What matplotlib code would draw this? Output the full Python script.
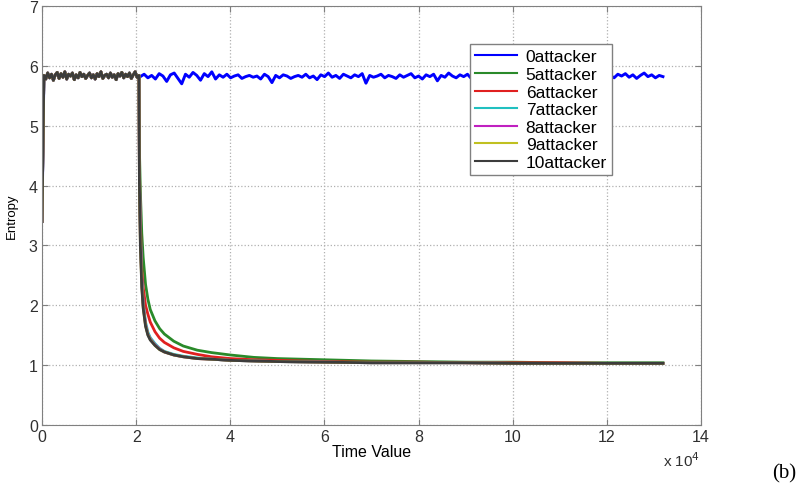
import numpy as np
import matplotlib
matplotlib.use("Agg")
import matplotlib.pyplot as plt

plt.rcParams['font.family'] = ['Liberation Sans', 'DejaVu Sans']

# entropy before the attack starts (shared by every run, 10attacker drawn on top)
pre_vals = [3.4, 5.84, 5.78, 5.88, 5.80, 5.86, 5.76, 5.85, 5.89, 5.79, 5.87,
            5.81, 5.90, 5.78, 5.86, 5.83, 5.88, 5.77, 5.85, 5.80, 5.89,
            5.82, 5.86, 5.79, 5.84, 5.88, 5.80, 5.85, 5.78, 5.87, 5.82,
            5.90, 5.79, 5.84, 5.86, 5.80, 5.88, 5.81, 5.85, 5.77, 5.87,
            5.83, 5.89, 5.80, 5.86, 5.82, 5.88, 5.79, 5.85, 5.90, 5.81, 5.84]

# 0attacker after t = 2e4
blue_vals = [5.82, 5.86, 5.80, 5.84, 5.78, 5.87, 5.83, 5.74, 5.85, 5.88, 5.79, 5.70, 5.86, 5.81,
             5.89, 5.84, 5.76, 5.87, 5.82, 5.90, 5.78, 5.85, 5.81, 5.86, 5.80, 5.83, 5.85, 5.79,
             5.82, 5.84, 5.81, 5.83, 5.78, 5.86, 5.82, 5.72, 5.84, 5.80, 5.85, 5.83, 5.79, 5.82,
             5.84, 5.81, 5.86, 5.80, 5.83, 5.77, 5.85, 5.82, 5.88, 5.81, 5.84, 5.79, 5.86, 5.83,
             5.80, 5.85, 5.82, 5.87, 5.71, 5.84, 5.81, 5.83, 5.86, 5.80, 5.84, 5.82, 5.79, 5.85,
             5.81, 5.84, 5.87, 5.80, 5.83, 5.78, 5.85, 5.82, 5.86, 5.75, 5.84, 5.81, 5.88, 5.83,
             5.80, 5.85, 5.82, 5.86, 5.79, 5.84, 5.81, 5.87, 5.83, 5.73, 5.85, 5.82, 5.86, 5.80,
             5.84, 5.81, 5.88, 5.79, 5.85, 5.82, 5.86, 5.80, 5.84, 5.87, 5.81, 5.76, 5.85, 5.83,
             5.86, 5.80, 5.84, 5.82, 5.88, 5.79, 5.85, 5.81, 5.87, 5.83, 5.78, 5.86, 5.82, 5.84,
             5.80, 5.86, 5.83, 5.87, 5.81, 5.85, 5.79, 5.84, 5.88, 5.82, 5.85, 5.80, 5.84, 5.82]

# decay after the attack starts (time in units of 1e4)
decay_x = [2.07, 2.09, 2.12, 2.15, 2.2, 2.25, 2.3, 2.4, 2.5, 2.6, 2.8, 3.0, 3.3,
           3.6, 4.0, 4.5, 5.0, 6.0, 7.0, 8.0, 9.0, 10.0, 11.0, 12.0, 13.19]
att5 = [4.6, 3.9, 3.2, 2.8, 2.35, 2.1, 1.93, 1.74, 1.61, 1.52, 1.40, 1.32, 1.25,
        1.21, 1.17, 1.13, 1.11, 1.09, 1.07, 1.06, 1.05, 1.05, 1.04, 1.04, 1.04]
att6 = [4.3, 3.4, 2.6, 2.3, 2.0, 1.85, 1.72, 1.56, 1.45, 1.38, 1.29, 1.23, 1.18,
        1.14, 1.11, 1.09, 1.08, 1.06, 1.05, 1.05, 1.04, 1.04, 1.04, 1.03, 1.03]
att7 = [4.2, 3.3, 2.45, 2.05, 1.72, 1.55, 1.46, 1.36, 1.28, 1.23, 1.18, 1.15, 1.12,
        1.10, 1.08, 1.07, 1.06, 1.05, 1.04, 1.04, 1.04, 1.03, 1.03, 1.03, 1.03]
att8 = [4.1, 3.15, 2.38, 2.0, 1.68, 1.52, 1.44, 1.34, 1.27, 1.22, 1.17, 1.14, 1.11,
        1.10, 1.08, 1.07, 1.06, 1.05, 1.04, 1.04, 1.04, 1.03, 1.03, 1.03, 1.03]
att9 = [4.05, 3.05, 2.33, 1.97, 1.66, 1.51, 1.43, 1.33, 1.26, 1.22, 1.17, 1.14, 1.11,
        1.10, 1.08, 1.07, 1.06, 1.05, 1.04, 1.04, 1.04, 1.03, 1.03, 1.03, 1.03]
att10 = [4.0, 3.0, 2.3, 1.95, 1.65, 1.50, 1.42, 1.33, 1.26, 1.22, 1.17, 1.14, 1.11,
         1.10, 1.08, 1.07, 1.06, 1.05, 1.04, 1.04, 1.04, 1.03, 1.03, 1.03, 1.03]

labels = ["0attacker", "5attacker", "6attacker", "7attacker", "8attacker", "9attacker", "10attacker"]
colors = ["#0000ff", "#2a8a2a", "#e02020", "#20c0c0", "#c020c0", "#c0c020", "#3c3c3c"]

fig = plt.figure(figsize=(8.04, 4.89), dpi=100)
ax = fig.add_axes([0.0522, 0.1288, 0.8198, 0.8569])

pre_x = np.linspace(0, 2.06, len(pre_vals))
blue_x = np.linspace(2.09, 13.19, len(blue_vals))

ax.plot(np.concatenate([pre_x, blue_x]), pre_vals + blue_vals,
        color=colors[0], lw=2.1, label=labels[0])
for vals, c, lab in zip([att5, att6, att7, att8, att9, att10], colors[1:], labels[1:]):
    ax.plot(np.concatenate([pre_x, decay_x]), pre_vals + vals, color=c, lw=2.0, label=lab)

ax.set_xlim(0, 14)
ax.set_ylim(0, 7)
ax.set_xticks(range(0, 15, 2))
ax.set_yticks(range(0, 8))
ax.grid(True, linestyle=':', color='#b0b0b0', lw=0.9)
for s in ax.spines.values():
    s.set_color('#808080')
ax.tick_params(direction='in', top=True, right=True, labelsize=11.5, color='#808080',
               labelcolor='#303030', length=4, pad=3)
ax.set_xlabel("Time Value", fontsize=11.5, labelpad=0)
ax.set_ylabel("Entropy", fontsize=9.5, labelpad=8)

leg = ax.legend(loc='upper right', bbox_to_anchor=(0.865, 0.909), fontsize=12.5,
                fancybox=False, framealpha=1, edgecolor='#808080', handlelength=2.4,
                labelspacing=0.14, borderpad=0.3, handletextpad=0.5, borderaxespad=0)
for line in leg.get_lines():
    line.set_linewidth(1.5)

fig.text(0.848, 0.058, r"x 10$^{4}$", fontsize=11, ha='center', va='center', color='#303030')
fig.text(0.975, 0.03, "(b)", fontsize=15, ha='center', va='center', family='Liberation Serif')

fig.savefig("out.png", dpi=100)
